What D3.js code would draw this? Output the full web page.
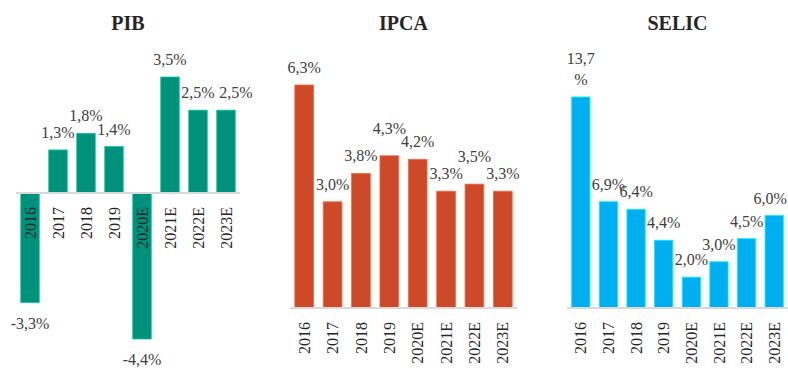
<!DOCTYPE html>
<html>
<head>
<meta charset="utf-8">
<script src="https://cdn.jsdelivr.net/npm/d3@7/dist/d3.min.js"></script>
<style>
  html, body { margin: 0; padding: 0; background: #fff; }
  svg { display: block; font-family: "Liberation Serif", "Times New Roman", serif; }
</style>
</head>
<body>
<svg id="chart" width="788" height="368"></svg>
<script>
// Categories shared by the three panels
const years = ["2016", "2017", "2018", "2019", "2020E", "2021E", "2022E", "2023E"];

// Series values (%)
const pib   = [-3.3, 1.3, 1.8, 1.4, -4.4, 3.5, 2.5, 2.5];
const ipca  = [6.3, 3.0, 3.8, 4.3, 4.2, 3.3, 3.5, 3.3];
const selic = [13.7, 6.9, 6.4, 4.4, 2.0, 3.0, 4.5, 6.0];

// Panel titles
const titles = ["PIB", "IPCA", "SELIC"];

// Layout of each panel: horizontal extent, vertical extent, colour,
// and hand-placed nudges for value labels that would otherwise collide
const panels = [
  { title: titles[0], values: pib,   color: "#00917a", x0: 16,  x1: 240, yTop: 77,  yBottom: 339,
    nudge: { "2023E": [10, 0] }, wrap: [] },
  { title: titles[1], values: ipca,  color: "#cc4a29", x0: 290, x1: 517, yTop: 85,  yBottom: 308,
    nudge: { "2019": [0, -10], "2022E": [0, -10] }, wrap: [] },
  { title: titles[2], values: selic, color: "#00aff0", x0: 567, x1: 788, yTop: 97,  yBottom: 308,
    nudge: { "2023E": [-4, 0] }, wrap: ["2016"] }
];

// Brazilian number style: decimal comma, plain hyphen for negatives
const br = d3.formatLocale({ decimal: ",", thousands: ".", grouping: [3], currency: ["R$", ""], minus: "-" });
const fmt = v => br.format(".1f")(v) + "%";

const svg = d3.select("#chart");

panels.forEach(p => {
  const g = svg.append("g");

  const x = d3.scaleBand()
    .domain(years)
    .range([p.x0, p.x1])
    .paddingInner(0.34)
    .paddingOuter(0.17);

  const lo = Math.min(0, d3.min(p.values));
  const hi = d3.max(p.values);
  const y = d3.scaleLinear().domain([lo, hi]).range([p.yBottom, p.yTop]);
  const y0 = y(0);

  const rows = years.map((yr, i) => ({ yr, v: p.values[i] }));

  // Title
  g.append("text")
    .attr("x", (p.x0 + p.x1) / 2)
    .attr("y", 30)
    .attr("text-anchor", "middle")
    .attr("font-size", 20)
    .attr("font-weight", "bold")
    .attr("fill", "#262626")
    .text(p.title);

  // Bars
  g.selectAll("rect.bar")
    .data(rows)
    .join("rect")
    .attr("class", "bar")
    .attr("x", d => x(d.yr))
    .attr("width", x.bandwidth())
    .attr("y", d => Math.min(y(d.v), y0))
    .attr("height", d => Math.abs(y(d.v) - y0))
    .attr("fill", p.color)
    .attr("stroke", d3.color(p.color).brighter(0.9))
    .attr("stroke-width", 0.8);

  // Zero line
  g.append("line")
    .attr("x1", p.x0).attr("x2", p.x1)
    .attr("y1", y0).attr("y2", y0)
    .attr("stroke", "#d9d9d9")
    .attr("stroke-width", 2);

  // Category labels, rotated, hanging below the zero line
  g.selectAll("text.cat")
    .data(rows)
    .join("text")
    .attr("class", "cat")
    .attr("transform", d => `translate(${x(d.yr) + x.bandwidth() / 2},${y0 + 14}) rotate(-90)`)
    .attr("dy", "0.35em")
    .attr("text-anchor", "end")
    .attr("font-size", 16)
    .attr("fill", "#262626")
    .text(d => d.yr);

  // Value labels
  const labels = g.selectAll("text.val")
    .data(rows)
    .join("text")
    .attr("class", "val")
    .attr("text-anchor", "middle")
    .attr("font-size", 16)
    .attr("fill", "#404040")
    .attr("x", d => x(d.yr) + x.bandwidth() / 2 + (p.nudge[d.yr] ? p.nudge[d.yr][0] : 0))
    .attr("y", d => (d.v >= 0 ? y(d.v) - 12 : y(d.v) + 26) + (p.nudge[d.yr] ? p.nudge[d.yr][1] : 0));

  labels.each(function (d) {
    const t = d3.select(this);
    const s = fmt(d.v);
    if (p.wrap.includes(d.yr)) {
      const cx = t.attr("x");
      t.append("tspan").attr("x", cx).attr("dy", -21).text(s.slice(0, -1));
      t.append("tspan").attr("x", cx).attr("dy", 21).text("%");
    } else {
      t.text(s);
    }
  });
});
</script>
</body>
</html>
